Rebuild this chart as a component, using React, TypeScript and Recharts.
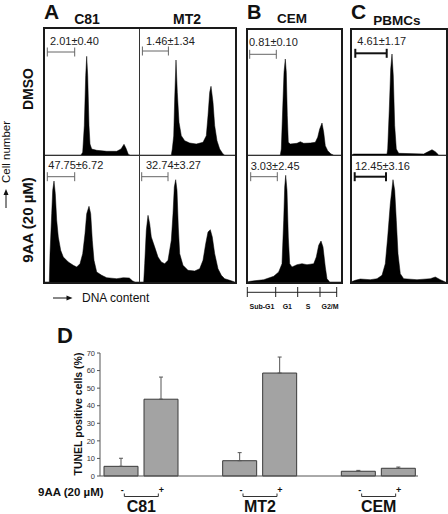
import { AreaChart, Area, XAxis, YAxis, ReferenceLine, BarChart, Bar, ErrorBar } from 'recharts';

const FONT = '"Liberation Sans", Arial, Helvetica, sans-serif';

// PI histograms: [channel, events]
const c81Dmso = [[0, 0], [37, 0], [38.7, 2.7], [40.3, 29.3], [41.7, 79.3], [42.7, 98.7], [43.7, 79.3], [45, 29.3], [46, 11], [47.7, 6], [52.7, 4.7], [62.7, 3.7], [72.7, 3.7], [77, 6], [80, 10.7], [82, 6.7], [84.3, 0.7], [86, 0], [97, 0]];
const mt2Dmso = [[0, 0], [32.3, 0], [33.3, 6], [34.7, 19], [35.7, 56], [37, 95], [38.3, 62.7], [40, 32.7], [42.3, 19.3], [45.7, 14.3], [50.7, 12], [57.3, 11], [64, 12.7], [67.3, 19.3], [69, 39.3], [70.7, 62.7], [72, 68.7], [74, 52.7], [75.7, 29.3], [78, 14.3], [80.7, 6], [84, 1], [85.7, 0], [97, 0]];
const c81Aa = [[0, 0], [5.3, 0], [6, 28.3], [7.7, 68.3], [8.7, 91.7], [10, 101], [11.3, 88.3], [12.7, 61.7], [14.3, 45], [16.7, 31.7], [19.3, 25], [24.3, 20], [29.3, 16.7], [32.7, 15], [36, 18.3], [38.7, 28.3], [41, 48.3], [42.7, 68.3], [45, 75.7], [46.7, 68.3], [48.3, 41.7], [50, 21.7], [52.7, 10], [57.7, 6.7], [62.7, 4.3], [72.7, 3.3], [79.3, 4.3], [85.3, 4], [88.7, 1], [91, 0], [97, 0]];
const mt2Aa = [[0, 0], [4.7, 0], [5.7, 18.3], [7.3, 51.7], [9, 66.7], [10.7, 58.3], [12.3, 45], [15.7, 35], [19, 25], [22.3, 20], [25.7, 18.3], [29, 21.7], [32.3, 41.7], [34, 68.3], [35.3, 95], [36.7, 102.3], [38, 91.7], [39.3, 55], [40.7, 28.3], [44, 16.7], [49, 11.7], [55.7, 11], [60.7, 13.3], [64, 21.7], [66.7, 38.3], [69, 50], [71.3, 52.3], [73.3, 45], [75.7, 28.3], [79, 13.3], [82.3, 6.7], [85.7, 3.3], [90.7, 1.7], [95.7, 0], [97, 0]];
const cemDmso = [[0, 0], [33.3, 0], [34.3, 6], [35.7, 46], [37, 82.7], [38.3, 96], [39.3, 82.7], [40.3, 39.3], [41.3, 12.7], [43.3, 11], [50, 11.7], [53.3, 13.3], [56.7, 11.7], [63.3, 12], [68.3, 12.7], [70.7, 17.7], [72.7, 26], [75, 32], [76.7, 22.7], [78.3, 9.3], [80.7, 4.3], [84, 1], [86.7, 0], [96, 0]];
const cemAa = [[0, 0], [3.3, 0.7], [16.7, 2.3], [26.7, 5.7], [31.7, 10], [35, 18.3], [36.7, 61.7], [37.7, 95], [38.7, 106.7], [40, 91.7], [41.3, 45], [42.7, 18.3], [45, 15], [50, 17.3], [55, 18.3], [60, 17.3], [66.7, 18.3], [69.3, 25], [71.7, 36.7], [74, 41], [76, 35], [78.3, 15], [80, 3.3], [82.7, 0], [96, 0]];
const pbmcDmso = [[0, 0], [2.7, 1], [36, 1], [36.7, 6], [38.3, 46], [39.7, 86], [41, 101], [42.3, 79], [43.7, 29.3], [45.3, 6], [47.7, 1.7], [72.7, 1], [76, 2.7], [81, 5.3], [84.3, 3.3], [87.7, 0], [96, 0]];
const pbmcAa = [[0, 0], [4.3, 1.7], [9.3, 3], [19.3, 2.3], [26, 3.3], [31, 6.7], [34.3, 18.3], [36.7, 45], [39.3, 78.3], [42, 102.3], [43.7, 91.7], [45.3, 61.7], [47, 28.3], [49.3, 8.3], [52.7, 3.3], [66, 2.3], [79.3, 3.3], [84.3, 5], [89.3, 2.3], [94.3, 0], [96, 0]];

// sub-G1 gate per histogram: [from channel, to channel, level]
const c81DmsoGate = [3.3, 30.7, 103];
const mt2DmsoGate = [3.4, 29.4, 104];
const c81AaGate = [3.3, 30.7, 105.3];
const mt2AaGate = [2.7, 29, 105.3];
const cemDmsoGate = [2.7, 29.3, 100.7];
const pbmcDmsoGate = [4.3, 35.7, 101.7];
const cemAaGate = [3.7, 30.3, 105.3];
const pbmcAaGate = [3.7, 35, 105.3];

// sub-G1 % (mean ± SD) printed over each gate
const subG1Text = ['2.01±0.40', '1.46±1.34', '47.75±6.72', '32.74±3.27', '0.81±0.10', '4.61±1.17', '3.03±2.45', '12.45±3.16'];
const phaseLabels = ['Sub-G1', 'G1', 'S', 'G2/M'];

// panel D, TUNEL positive cells (%)
const cellLines = ['C81', 'MT2', 'CEM'];
const dmsoTunel = [5.5, 8.7, 2.7];
const dmsoTunelSd = [4.6, 4.6, 0.5];
const aaTunel = [43.7, 58.6, 4.4];
const aaTunelSd = [12.6, 9.1, 0.7];
const tunelTicks = [0, 10, 20, 30, 40, 50, 60, 70];

const tunelRows = cellLines.map((line, i) => ({
  line,
  dmso: dmsoTunel[i],
  dmsoErr: [0, dmsoTunelSd[i]],
  aa: aaTunel[i],
  aaErr: [0, aaTunelSd[i]],
}));

function Histo({ data, gate, left, top, width, height, thick }: any) {
  const pts = data.map(([ch, n]: number[]) => ({ ch, n }));
  const [g1, g2, gy] = gate;
  const gs = thick ? '#111' : '#666';
  const gw = thick ? 2 : 1;
  return (
    <div style={{ position: 'absolute', left, top }}>
      <AreaChart width={width} height={height} data={pts} margin={{ top: 0, right: 0, bottom: 0, left: 0 }}>
        <XAxis dataKey="ch" type="number" domain={[1, 1 + width]} hide allowDataOverflow />
        <YAxis type="number" domain={[0, height]} hide allowDataOverflow />
        <Area type="linear" dataKey="n" stroke="#000" strokeWidth={0.5} fill="#000" fillOpacity={1}
          dot={false} activeDot={false} isAnimationActive={false} />
        <ReferenceLine segment={[{ x: g1, y: gy }, { x: g2, y: gy }]} stroke={gs} strokeWidth={gw} />
        <ReferenceLine segment={[{ x: g1, y: gy - 4.5 }, { x: g1, y: gy + 4.5 }]} stroke={gs} strokeWidth={gw} />
        <ReferenceLine segment={[{ x: g2, y: gy - 4.5 }, { x: g2, y: gy + 4.5 }]} stroke={gs} strokeWidth={gw} />
      </AreaChart>
    </div>
  );
}

function GroupTick({ x, y, payload }: any) {
  return (
    <g fontFamily={FONT}>
      <text x={x - 19} y={y + 17} fontSize={9} fontWeight="bold" textAnchor="middle" fill="#111">-</text>
      <text x={x + 20} y={y + 17} fontSize={9} fontWeight="bold" textAnchor="middle" fill="#111">+</text>
      <path d={`M${x - 17},${y + 17.5}V${y + 20.5}H${x + 17}V${y + 17.5}`} fill="none" stroke="#333" strokeWidth={1} />
      <text x={x} y={y + 36} fontSize={16} fontWeight="bold" textAnchor="middle" fill="#111">{payload.value}</text>
    </g>
  );
}

const box = (left: number, top: number, width: number, height: number) => ({
  position: 'absolute' as const, left, top, width, height, border: '2px solid #1a1a1a', boxSizing: 'border-box' as const,
});
const rule = (left: number, top: number, width: number, height: number) => ({
  position: 'absolute' as const, left, top, width, height, background: '#333',
});

export default function App() {
  return (
    <div style={{ position: 'absolute', left: 0, top: 0, width: 448, height: 514, background: '#fff', overflow: 'hidden', fontFamily: FONT }}>
      <div style={box(43, 27, 194, 257)} />
      <div style={rule(139, 29, 1, 253)} />
      <div style={rule(45, 155, 190, 1)} />
      <div style={box(246, 28, 97, 256)} />
      <div style={rule(248, 155, 93, 1)} />
      <div style={box(350, 28, 98, 256)} />
      <div style={rule(352, 155, 94, 1)} />

      <Histo data={c81Dmso} gate={c81DmsoGate} left={45} top={29} width={94} height={126} />
      <Histo data={mt2Dmso} gate={mt2DmsoGate} left={140} top={29} width={95} height={126} />
      <Histo data={c81Aa} gate={c81AaGate} left={45} top={156} width={94} height={126} />
      <Histo data={mt2Aa} gate={mt2AaGate} left={140} top={156} width={95} height={126} />
      <Histo data={cemDmso} gate={cemDmsoGate} left={248} top={30} width={93} height={125} />
      <Histo data={cemAa} gate={cemAaGate} left={248} top={156} width={93} height={126} />
      <Histo data={pbmcDmso} gate={pbmcDmsoGate} left={352} top={30} width={94} height={125} thick />
      <Histo data={pbmcAa} gate={pbmcAaGate} left={352} top={156} width={94} height={126} thick />

      <div style={{ position: 'absolute', left: 0, top: 330 }}>
        <BarChart width={448} height={184} data={tunelRows} margin={{ top: 23, right: 30, bottom: 0, left: 60 }} barGap={6} barSize={34}>
          <XAxis dataKey="line" height={38} tickLine={false} tickSize={0} tickMargin={0} interval={0}
            axisLine={{ stroke: '#555' }} tick={<GroupTick />} padding={{ left: -18, right: -20 }} />
          <YAxis width={40} domain={[0, 70]} ticks={tunelTicks} interval={0} tickSize={3} tickMargin={2}
            axisLine={{ stroke: '#555' }} tickLine={{ stroke: '#555' }} tick={{ fontSize: 7.5, fill: '#333', fontFamily: FONT }} />
          <Bar dataKey="dmso" fill="#a3a3a3" stroke="#3a3a3a" strokeWidth={1} isAnimationActive={false}>
            <ErrorBar dataKey="dmsoErr" width={2} stroke="#555" strokeWidth={1} direction="y" />
          </Bar>
          <Bar dataKey="aa" fill="#a3a3a3" stroke="#3a3a3a" strokeWidth={1} isAnimationActive={false}>
            <ErrorBar dataKey="aaErr" width={2} stroke="#555" strokeWidth={1} direction="y" />
          </Bar>
        </BarChart>
      </div>

      <svg width={448} height={514} style={{ position: 'absolute', left: 0, top: 0, pointerEvents: 'none' }} fontFamily={FONT} fill="#111">
        <text x={44} y={19} fontSize={21} fontWeight="bold">A</text>
        <text x={247} y={18.5} fontSize={20} fontWeight="bold">B</text>
        <text x={351} y={19} fontSize={21} fontWeight="bold">C</text>
        <text x={57} y={343} fontSize={22} fontWeight="bold">D</text>

        <text x={87} y={23.5} fontSize={14} fontWeight="bold" textAnchor="middle">{cellLines[0]}</text>
        <text x={187} y={23.5} fontSize={14} fontWeight="bold" textAnchor="middle">{cellLines[1]}</text>
        <text x={292} y={23.3} fontSize={13.5} fontWeight="bold" textAnchor="middle">{cellLines[2]}</text>
        <text x={397} y={25} fontSize={13.5} fontWeight="bold" textAnchor="middle">PBMCs</text>

        <text x={33} y={89} fontSize={14} fontWeight="bold" textAnchor="middle" transform="rotate(-90 33 89)">DMSO</text>
        <text x={33.3} y={220} fontSize={15} fontWeight="bold" textAnchor="middle" transform="rotate(-90 33.3 220)">9AA (20 µM)</text>
        <text x={10} y={152} fontSize={11.5} textAnchor="middle" transform="rotate(-90 10 152)">Cell number</text>
        <line x1={6} y1={208} x2={6} y2={193} stroke="#111" strokeWidth={1} />
        <polygon points="6,189 3.5,195 8.5,195" />

        <line x1={53} y1={298} x2={68} y2={298} stroke="#111" strokeWidth={1} />
        <polygon points="72.5,298 66.5,295.5 66.5,300.5" />
        <text x={82} y={302} fontSize={12}>DNA content</text>

        <line x1={247} y1={292.3} x2={337} y2={292.3} stroke="#222" strokeWidth={1} />
        <line x1={247.3} y1={287} x2={247.3} y2={297} stroke="#222" strokeWidth={1} />
        <line x1={275.7} y1={287} x2={275.7} y2={297} stroke="#222" strokeWidth={1} />
        <line x1={297.7} y1={287} x2={297.7} y2={297} stroke="#222" strokeWidth={1} />
        <line x1={320} y1={287} x2={320} y2={297} stroke="#222" strokeWidth={1} />
        <line x1={336.7} y1={287} x2={336.7} y2={297} stroke="#222" strokeWidth={1} />
        <text x={262} y={308.7} fontSize={7} fontWeight="bold" textAnchor="middle">{phaseLabels[0]}</text>
        <text x={287.3} y={308.7} fontSize={7} fontWeight="bold" textAnchor="middle">{phaseLabels[1]}</text>
        <text x={308} y={308.7} fontSize={7} fontWeight="bold" textAnchor="middle">{phaseLabels[2]}</text>
        <text x={330} y={308.7} fontSize={7} fontWeight="bold" textAnchor="middle">{phaseLabels[3]}</text>

        <g fontSize={11} fill="#222">
          <text x={50} y={45}>{subG1Text[0]}</text>
          <text x={146} y={44.5}>{subG1Text[1]}</text>
          <text x={48.3} y={168.7}>{subG1Text[2]}</text>
          <text x={146} y={169}>{subG1Text[3]}</text>
          <text x={249} y={46}>{subG1Text[4]}</text>
          <text x={357.3} y={45}>{subG1Text[5]}</text>
          <text x={250.7} y={169.7}>{subG1Text[6]}</text>
          <text x={355} y={170}>{subG1Text[7]}</text>
        </g>

        <text x={38} y={495.5} fontSize={11.5} fontWeight="bold">9AA (20 µM)</text>
        <text x={81.5} y={414} fontSize={10.5} fontWeight="bold" textAnchor="middle" transform="rotate(-90 81.5 414)">TUNEL positive cells (%)</text>
      </svg>
    </div>
  );
}
